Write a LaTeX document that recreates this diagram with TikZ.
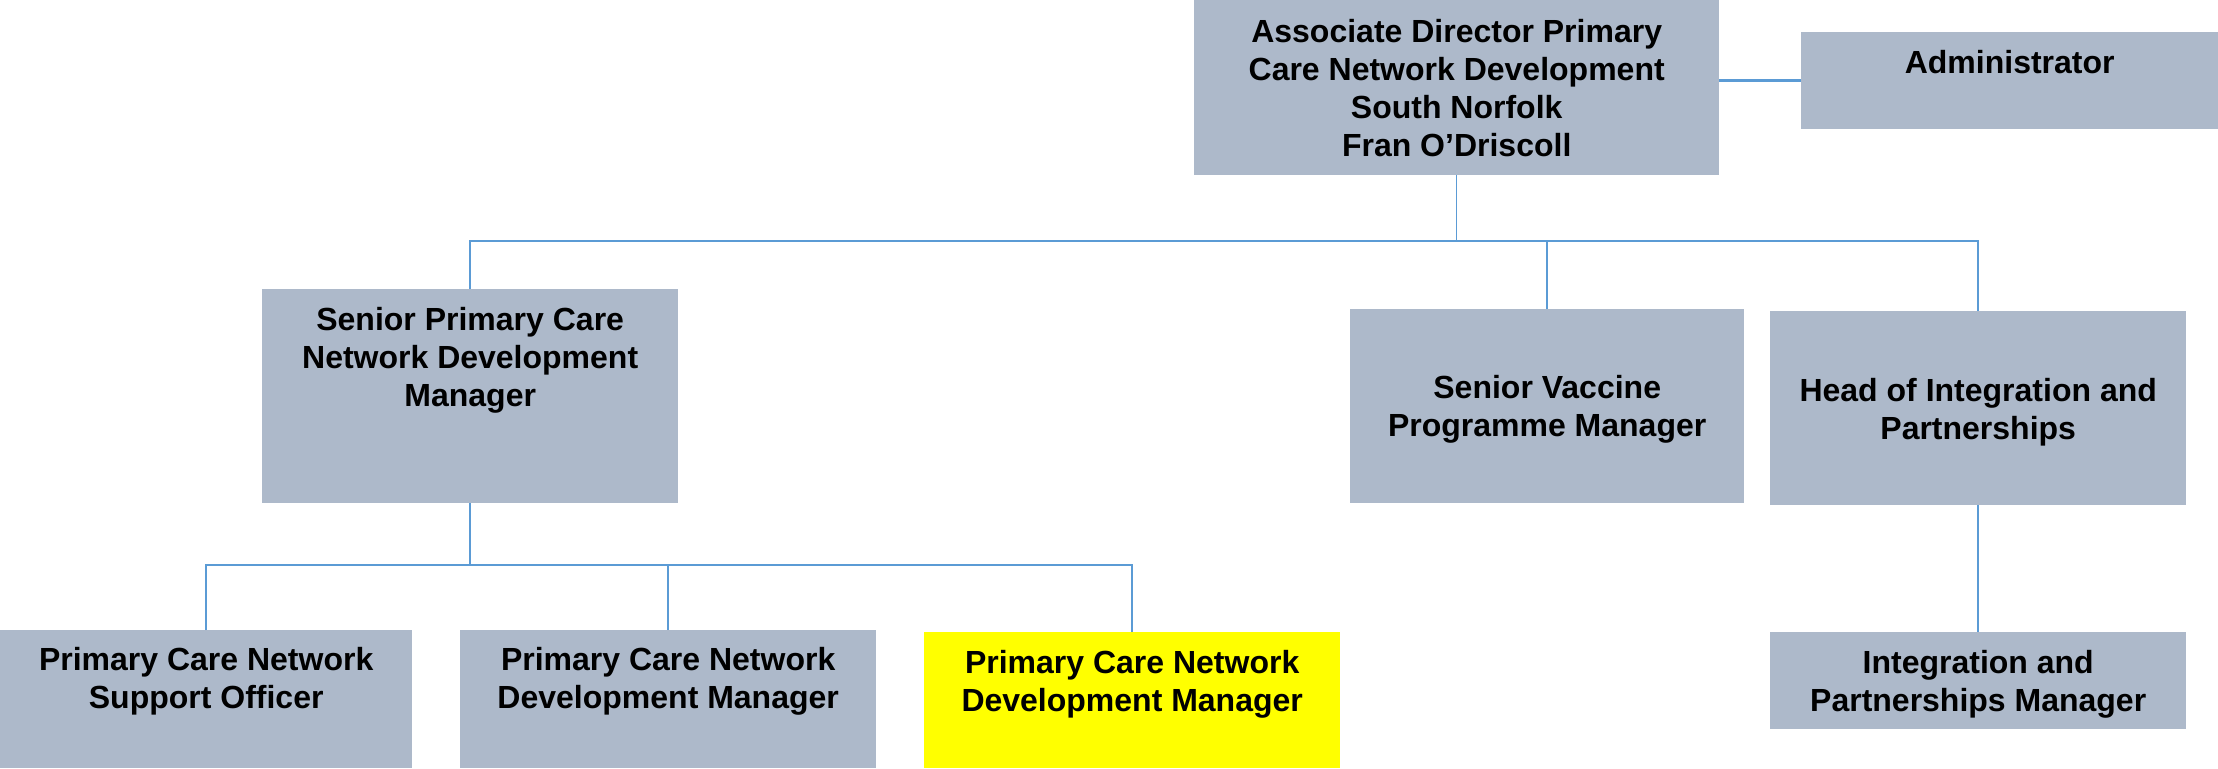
\documentclass[tikz,border=0pt]{standalone}
\usepackage{fontspec}
\setmainfont{Liberation Sans}
\definecolor{boxgray}{RGB}{173,185,202}
\definecolor{conncol}{RGB}{91,155,213}
\definecolor{hiyellow}{RGB}{255,255,0}
\begin{document}
\begin{tikzpicture}[x=1pt,y=-1pt,
  box/.style={rectangle, fill=boxgray, draw=none, inner sep=0pt, anchor=north west},
  txt/.style={inner sep=0pt, align=center, font=\fontsize{32}{38}\selectfont\bfseries, text=black},
  conn/.style={draw=conncol, line width=1.5pt},
  connthick/.style={draw=conncol, line width=2.5pt}]
\useasboundingbox (0,0) rectangle (2218,768);

\node[box, minimum width=525pt, minimum height=175pt,
  label={[txt,anchor=north,yshift=-19pt]north:{Associate Director Primary\\Care Network Development\\South Norfolk\\Fran O’Driscoll}}]
  (top) at (1194,0) {};
\node[box, minimum width=417pt, minimum height=97pt,
  label={[txt,anchor=north,yshift=-18pt]north:{Administrator}}]
  (admin) at (1801,32) {};
\node[box, minimum width=416pt, minimum height=214pt,
  label={[txt,anchor=north,yshift=-18pt]north:{Senior Primary Care\\Network Development\\Manager}}]
  (spcn) at (262,289) {};
\node[box, minimum width=394pt, minimum height=194pt,
  label={[txt,anchor=north,yshift=-66pt]north:{Senior Vaccine\\Programme Manager}}]
  (vacc) at (1350,309) {};
\node[box, minimum width=416pt, minimum height=194pt,
  label={[txt,anchor=north,yshift=-67pt]north:{Head of Integration and\\Partnerships}}]
  (head) at (1770,311) {};
\node[box, minimum width=412pt, minimum height=138pt,
  label={[txt,anchor=north,yshift=-17pt]north:{Primary Care Network\\Support Officer}}]
  (pso) at (0,630) {};
\node[box, minimum width=416pt, minimum height=138pt,
  label={[txt,anchor=north,yshift=-17pt]north:{Primary Care Network\\Development Manager}}]
  (pdm) at (460,630) {};
\node[box, fill=hiyellow, minimum width=416pt, minimum height=136pt,
  label={[txt,anchor=north,yshift=-18pt]north:{Primary Care Network\\Development Manager}}]
  (pcny) at (924,632) {};
\node[box, minimum width=416pt, minimum height=97pt,
  label={[txt,anchor=north,yshift=-18pt]north:{Integration and\\Partnerships Manager}}]
  (ipm) at (1770,632) {};

\coordinate (bus1) at (0,241);
\coordinate (bus2) at (0,565);

% director to administrator
\draw[connthick] (admin.west -| top.east) -- (admin.west);
% director to second row
\draw[conn] (top.south) -- (top.south |- bus1);
\draw[conn] (spcn.north) -- (spcn.north |- bus1) -- (head.north |- bus1) -- (head.north);
\draw[conn] (vacc.north |- bus1) -- (vacc.north);
% senior PCN manager to third row
\draw[conn] (spcn.south) -- (spcn.south |- bus2);
\draw[conn] (pso.north) -- (pso.north |- bus2) -- (pcny.north |- bus2) -- (pcny.north);
\draw[conn] (pdm.north |- bus2) -- (pdm.north);
% head of integration to manager
\draw[conn] (head.south) -- (ipm.north);
\end{tikzpicture}
\end{document}
